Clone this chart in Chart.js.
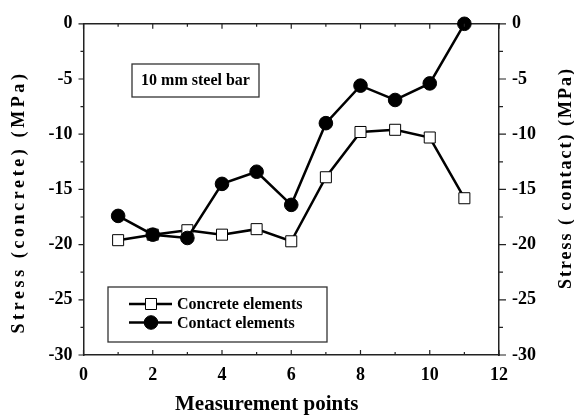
<!DOCTYPE html>
<html>
<head>
<meta charset="utf-8">
<script src="https://cdn.jsdelivr.net/npm/chart.js@4/dist/chart.umd.min.js"></script>
<style>
  html, body { margin: 0; padding: 0; background: #fff; }
  #wrap { width: 574px; height: 417px; }
</style>
</head>
<body>
<div id="wrap"><canvas id="stressChart" width="574" height="417"></canvas></div>
<script>
// measurement point numbers along the bar
const points = [1, 2, 3, 4, 5, 6, 7, 8, 9, 10, 11];
// stress read off the two element types (MPa)
const concreteStress = [-19.6, -19.1, -18.7, -19.1, -18.6, -19.7, -13.9, -9.8, -9.6, -10.3, -15.8];
const contactStress = [-17.4, -19.1, -19.4, -14.5, -13.4, -16.4, -9.0, -5.6, -6.9, -5.4, 0];

const seriesLabels = ['Concrete elements', 'Contact elements'];
const xTitle = 'Measurement points';
const yTitleLeft = 'Stress (concrete) (MPa)';
const yTitleRight = 'Stress ( contact) (MPa)';
const noteText = '10 mm steel bar';

const SERIF = '"Liberation Serif", "Times New Roman", serif';
const AXIS_COLOR = '#222';

function toXY(xs, ys) {
  return xs.map((x, i) => ({ x: x, y: ys[i] }));
}

function tickFont() {
  return { family: SERIF, size: 18, weight: 'bold' };
}

// little tick marks: inward on top/bottom, outward on left/right
const tickMarks = {
  id: 'tickMarks',
  afterDraw(chart) {
    const ctx = chart.ctx;
    const s = chart.scales;
    ctx.save();
    ctx.strokeStyle = AXIS_COLOR;
    ctx.lineWidth = 1.2;
    ctx.beginPath();
    for (let v = 0; v <= 12; v++) {
      const len = v % 2 === 0 ? 5 : 3;
      const px = s.x.getPixelForValue(v);
      ctx.moveTo(px, s.x.top); ctx.lineTo(px, s.x.top - len);
      ctx.moveTo(px, s.xTop.bottom); ctx.lineTo(px, s.xTop.bottom + len);
    }
    for (let v = 0; v >= -30; v -= 2.5) {
      const major = v % 5 === 0;
      const py = s.y.getPixelForValue(v);
      ctx.moveTo(s.y.right, py); ctx.lineTo(s.y.right - (major ? 5 : 3), py);
      ctx.moveTo(s.y2.left, py); ctx.lineTo(s.y2.left + (major ? 7 : 4), py);
    }
    ctx.stroke();
    ctx.restore();
  }
};

function drawMarker(ctx, ds, x, y) {
  ctx.save();
  ctx.fillStyle = ds.pointBackgroundColor;
  ctx.strokeStyle = ds.pointBorderColor;
  ctx.lineWidth = 1;
  ctx.beginPath();
  if (ds.pointStyle === 'rect') {
    const h = ds.pointRadius * Math.SQRT1_2;
    ctx.rect(x - h, y - h, 2 * h, 2 * h);
  } else {
    ctx.arc(x, y, ds.pointRadius, 0, Math.PI * 2);
  }
  ctx.fill();
  ctx.stroke();
  ctx.restore();
}

// boxed legend, note box and axis titles
const decorations = {
  id: 'decorations',
  afterDraw(chart) {
    const ctx = chart.ctx;
    ctx.save();

    // note box
    ctx.strokeStyle = '#333';
    ctx.lineWidth = 1.3;
    ctx.strokeRect(132, 64, 127, 33);
    ctx.fillStyle = '#000';
    ctx.font = 'bold 16px ' + SERIF;
    ctx.textAlign = 'center';
    ctx.textBaseline = 'middle';
    ctx.fillText(noteText, 195.5, 81);

    // legend box
    ctx.strokeRect(108, 287, 219, 55);
    const rows = [304, 322.5];
    chart.data.datasets.forEach((ds, i) => {
      const y = rows[i];
      ctx.strokeStyle = ds.borderColor;
      ctx.lineWidth = ds.borderWidth;
      ctx.beginPath();
      ctx.moveTo(129, y); ctx.lineTo(172, y);
      ctx.stroke();
      drawMarker(ctx, ds, 151, y);
      ctx.fillStyle = '#000';
      ctx.font = 'bold 16px ' + SERIF;
      ctx.textAlign = 'left';
      ctx.textBaseline = 'middle';
      ctx.fillText(ds.label, 177, y + 1);
    });

    // x title
    ctx.font = 'bold 21px ' + SERIF;
    ctx.textAlign = 'left';
    ctx.textBaseline = 'middle';
    ctx.fillText(xTitle, 175, 405);

    // left y title
    ctx.save();
    ctx.translate(19, 202);
    ctx.rotate(-Math.PI / 2);
    ctx.font = 'bold 18px ' + SERIF;
    ctx.letterSpacing = '3.6px';
    ctx.textAlign = 'center';
    ctx.fillText(yTitleLeft, 0, 0);
    ctx.restore();

    // right y title
    ctx.save();
    ctx.translate(566, 178);
    ctx.rotate(-Math.PI / 2);
    ctx.font = 'bold 18px ' + SERIF;
    ctx.letterSpacing = '2px';
    ctx.textAlign = 'center';
    ctx.fillText(yTitleRight, 0, 0);
    ctx.restore();

    ctx.restore();
  }
};

const ctx = document.getElementById('stressChart').getContext('2d');

new Chart(ctx, {
  type: 'line',
  data: {
    datasets: [{
      label: seriesLabels[0],
      data: toXY(points, concreteStress),
      borderColor: '#000',
      borderWidth: 2.5,
      pointStyle: 'rect',
      pointRadius: 7.8,
      pointBackgroundColor: '#fff',
      pointBorderColor: '#000',
      pointBorderWidth: 1,
      tension: 0,
      fill: false,
      clip: false,
      order: 1
    }, {
      label: seriesLabels[1],
      data: toXY(points, contactStress),
      borderColor: '#000',
      borderWidth: 2.5,
      pointStyle: 'circle',
      pointRadius: 6.8,
      pointBackgroundColor: '#000',
      pointBorderColor: '#000',
      pointBorderWidth: 1,
      tension: 0,
      fill: false,
      clip: false,
      order: 0
    }]
  },
  options: {
    responsive: false,
    animation: false,
    devicePixelRatio: 1,
    layout: { padding: 0 },
    plugins: {
      legend: { display: false },
      tooltip: { enabled: false }
    },
    scales: {
      x: {
        type: 'linear',
        position: 'bottom',
        min: 0,
        max: 12,
        ticks: { stepSize: 2, font: tickFont(), color: '#000', padding: 10 },
        grid: { display: false, drawTicks: false },
        border: { display: true, color: AXIS_COLOR, width: 1.5 },
        afterFit(s) { s.height = 62; }
      },
      xTop: {
        type: 'linear',
        position: 'top',
        min: 0,
        max: 12,
        ticks: { display: false },
        grid: { display: false, drawTicks: false },
        border: { display: true, color: AXIS_COLOR, width: 1.5 },
        afterFit(s) { s.height = 23.3; }
      },
      y: {
        type: 'linear',
        position: 'left',
        min: -30,
        max: 0,
        ticks: { stepSize: 5, font: tickFont(), color: '#000', padding: 11 },
        grid: { display: false, drawTicks: false },
        border: { display: true, color: AXIS_COLOR, width: 1.5 },
        afterFit(s) { s.width = 83.5; }
      },
      y2: {
        type: 'linear',
        position: 'right',
        min: -30,
        max: 0,
        ticks: { stepSize: 5, font: tickFont(), color: '#000', padding: 13 },
        grid: { display: false, drawTicks: false },
        border: { display: true, color: AXIS_COLOR, width: 1.5 },
        afterFit(s) { s.width = 75; }
      }
    }
  },
  plugins: [tickMarks, decorations]
});
</script>
</body>
</html>
